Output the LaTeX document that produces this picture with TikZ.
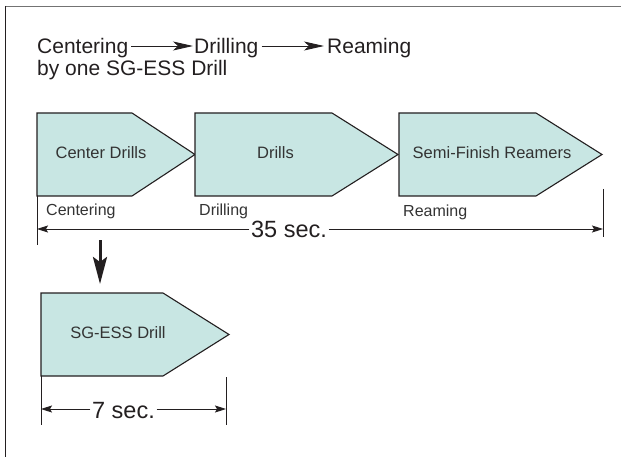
\documentclass[tikz,border=0pt]{standalone}
\usepackage{fontspec}
\setmainfont{Liberation Sans}
\usetikzlibrary{arrows.meta}
\definecolor{boxfill}{HTML}{C8E6E3}
\definecolor{txt}{HTML}{231F20}
\definecolor{boxtxt}{HTML}{333333}
\tikzset{
  hdr/.style={inner sep=0pt, anchor=base west, text=txt, font=\fontsize{21}{22}\selectfont},
  boxlbl/.style={inner sep=0pt, text=boxtxt, font=\fontsize{16.5}{18}\selectfont},
  sublbl/.style={inner sep=0pt, anchor=base west, text=boxtxt, font=\fontsize{16}{18}\selectfont},
  dimtxt/.style={inner sep=1.5pt, anchor=base, text=txt, font=\fontsize{23.5}{25}\selectfont},
  stage/.style={draw=txt, line width=1.1pt, fill=boxfill, line join=miter},
  hdrarrow/.style={draw=txt, line width=0.9pt, -{Stealth[length=20pt,width=9pt,inset=5pt]}},
  dimarrow/.style={draw=txt, line width=0.9pt, -{Stealth[length=11pt,width=7pt,inset=2pt]}},
  tick/.style={draw=txt, line width=1pt},
  bigarrow/.style={draw=txt, line width=3pt, -{Stealth[length=27pt,width=14pt,inset=5pt]}},
}
\begin{document}
\begin{tikzpicture}[x=1pt,y=-1pt]
\useasboundingbox (0,0) rectangle (621,457);
% frame
\draw[draw=gray!90!black, line width=1.5pt] (5,6.5) -- (621,6.5);
\draw[draw=txt, line width=1pt] (5.5,6) -- (5.5,457);

% header
\coordinate (ay) at (0,46);
\node[hdr] (h1) at (37,54) {Centering};
\node[hdr] (h2) at (194,54) {Drilling};
\node[hdr] (h3) at (327,54) {Reaming};
\node[hdr] (h4) at (37,76) {by one SG-ESS Drill};
\draw[hdrarrow] ([xshift=3pt]h1.east |- ay) -- ([xshift=-1pt]h2.west |- ay);
\draw[hdrarrow] ([xshift=3pt]h2.east |- ay) -- ([xshift=-3pt]h3.west |- ay);

% stages
\draw[stage] (37,113) -- (132,113) -- (195,154.5) -- (132,196) -- (37,196) -- cycle;
\draw[stage] (195,113) -- (332,113) -- (398,154.5) -- (332,196) -- (195,196) -- cycle;
\draw[stage] (399,113) -- (536,113) -- (602,154.5) -- (536,196) -- (399,196) -- cycle;
\node[boxlbl] (b1) at (101,153) {Center Drills};
\node[boxlbl] (b2) at (275.5,153) {Drills};
\node[boxlbl] (b3) at (492,153) {Semi-Finish Reamers};

\node[sublbl] (s1) at (46,215) {Centering};
\node[sublbl] (s2) at (199,216) {Drilling};
\node[sublbl] (s3) at (403,217) {Reaming};

% 35 sec dimension
\coordinate (l1t) at (37,196);
\coordinate (l1b) at (37,245);
\coordinate (r1t) at (603,189);
\coordinate (r1b) at (603,237);
\draw[tick] (l1t) -- (l1b);
\draw[tick] (r1t) -- (r1b);
\coordinate (d1) at (0,229);
\node[dimtxt] (t35) at (289,237) {35 sec.};
\draw[dimarrow] (t35.west |- d1) -- (l1t |- d1);
\draw[dimarrow] (t35.east |- d1) -- (r1t |- d1);

% down arrow
\coordinate (dstart) at (100,240);
\coordinate (dend) at (100,284);
\draw[bigarrow] (dstart) -- (dend);

% SG-ESS drill
\draw[stage] (41,293) -- (163,293) -- (229,334.5) -- (163,376) -- (41,376) -- cycle;
\node[boxlbl] (b4) at (118,333) {SG-ESS Drill};

% 7 sec dimension
\coordinate (l2t) at (41,376);
\coordinate (l2b) at (41,425);
\coordinate (r2t) at (226,377);
\coordinate (r2b) at (226,425);
\draw[tick] (l2t) -- (l2b);
\draw[tick] (r2t) -- (r2b);
\coordinate (d2) at (0,409);
\node[dimtxt] (t7) at (123.5,418) {7 sec.};
\draw[dimarrow] (t7.west |- d2) -- (l2t |- d2);
\draw[dimarrow] (t7.east |- d2) -- (r2t |- d2);
\end{tikzpicture}
\end{document}
